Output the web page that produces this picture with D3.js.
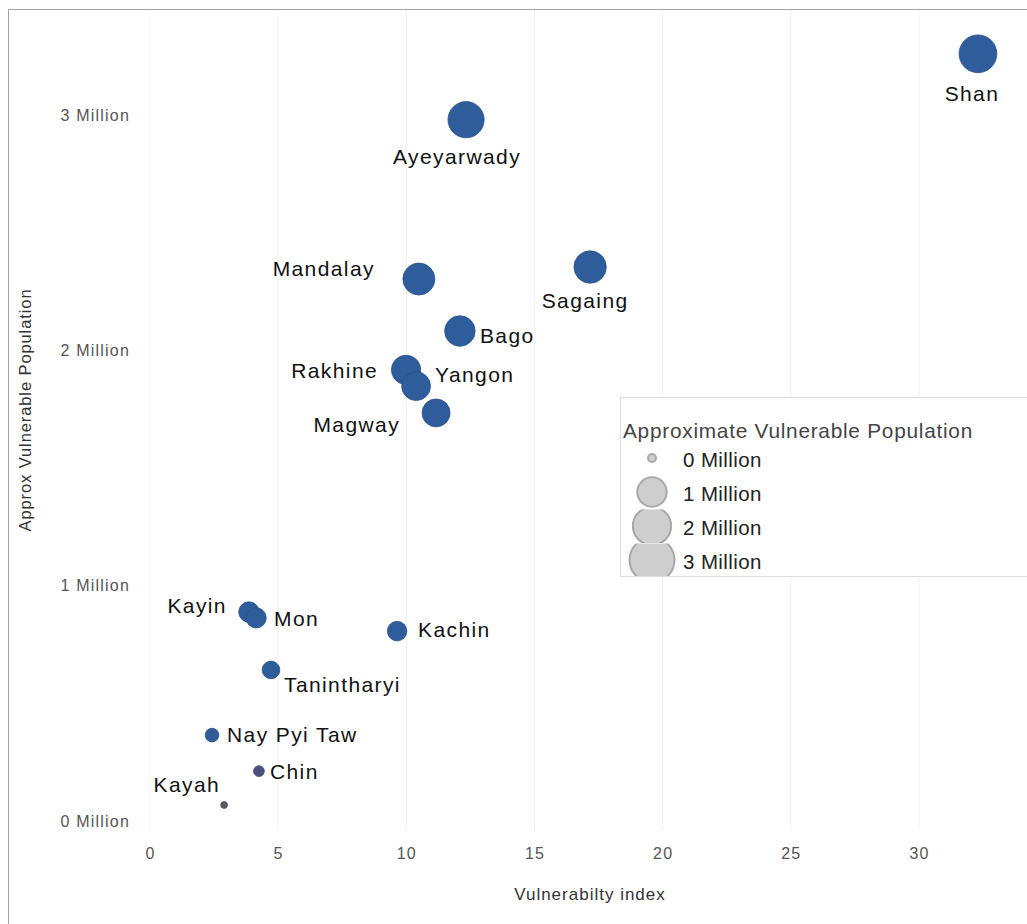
<!DOCTYPE html>
<html>
<head>
<meta charset="utf-8">
<script src="https://cdn.jsdelivr.net/npm/d3@7"></script>
<style>
  html, body { margin: 0; padding: 0; background: #fff; }
  svg { display: block; font-family: "Liberation Sans", Arial, sans-serif; }
</style>
</head>
<body>
<svg id="chart" width="1027" height="924"></svg>
<script>
// ---------------- data ----------------
const regions = ["Shan","Ayeyarwady","Sagaing","Mandalay","Bago","Rakhine","Yangon","Magway",
                 "Kayin","Mon","Kachin","Tanintharyi","Nay Pyi Taw","Chin","Kayah"];
const vulnerabilityIndex = [32.3, 12.33, 17.17, 10.49, 12.09, 9.99, 10.38, 11.16,
                            3.86, 4.14, 9.64, 4.72, 2.42, 4.25, 2.89];
const vulnerablePopulationM = [3.26, 2.98, 2.354, 2.303, 2.082, 1.917, 1.848, 1.734,
                               0.888, 0.863, 0.807, 0.642, 0.365, 0.212, 0.068];
const xTicks = [0, 5, 10, 15, 20, 25, 30];
const yTicks = [0, 1, 2, 3];
const legendValues = [0, 1, 2, 3];
const xTitle = "Vulnerabilty index";
const yTitle = "Approx Vulnerable Population";
const legendTitle = "Approximate Vulnerable Population";

// label placement (anchor, dx, dy) — layout only
const labelLayout = {
  "Shan": ["middle", -6, 47], "Ayeyarwady": ["middle", -9, 44], "Sagaing": ["middle", -5, 41],
  "Mandalay": ["end", -44, -3], "Bago": ["start", 20, 12], "Rakhine": ["end", -28, 8],
  "Yangon": ["start", 19, -4], "Magway": ["end", -36, 19], "Kayin": ["end", -22, 1],
  "Mon": ["start", 18, 8], "Kachin": ["start", 21, 6], "Tanintharyi": ["start", 13, 22],
  "Nay Pyi Taw": ["start", 15, 7], "Chin": ["start", 11, 8], "Kayah": ["end", -4, -13]
};

const data = regions.map((r, i) => ({ name: r, x: vulnerabilityIndex[i], y: vulnerablePopulationM[i] }));

// ---------------- scales ----------------
const svg = d3.select("#chart");
const x = d3.scaleLinear().domain([0, 30]).range([150, 919]);
const y = d3.scaleLinear().domain([0, 3]).range([821, 115]);
const r = d3.scaleSqrt().domain([0, 3.3]).range([0.8, 19]);
const rLegend = d3.scaleSqrt().domain([0, 3]).range([4, 22.5]);
const color = d3.scaleLinear().domain([0.07, 0.21, 0.37])
  .range(["#5b5b60", "#4b4f82", "#2f5c9b"]).clamp(true);

// border
svg.append("line").attr("x1", 8).attr("x2", 1027).attr("y1", 9.5).attr("y2", 9.5)
  .attr("stroke", "#a3a3a3").attr("stroke-width", 1);
svg.append("line").attr("x1", 8.5).attr("x2", 8.5).attr("y1", 9).attr("y2", 924)
  .attr("stroke", "#a3a3a3").attr("stroke-width", 1);

// faint gridlines
svg.append("g").selectAll("line").data(xTicks).join("line")
  .attr("x1", d => x(d)).attr("x2", d => x(d)).attr("y1", 10).attr("y2", 830)
  .attr("stroke", "#f1f1f1").attr("stroke-width", 1);

// axes
const xAxis = svg.append("g").attr("transform", "translate(0,848)")
  .call(d3.axisBottom(x).tickValues(xTicks).tickSize(0).tickPadding(0).tickFormat(d3.format("d")));
xAxis.select(".domain").remove();
xAxis.selectAll("text").attr("font-size", 16).attr("letter-spacing", "1.2px")
  .attr("fill", "#555").attr("font-family", "Liberation Sans, Arial, sans-serif");

const yAxis = svg.append("g").attr("transform", "translate(130,0)")
  .call(d3.axisLeft(y).tickValues(yTicks).tickSize(0).tickPadding(0).tickFormat(d => d + " Million"));
yAxis.select(".domain").remove();
yAxis.selectAll("text").attr("font-size", 16).attr("letter-spacing", "1.2px")
  .attr("fill", "#555").attr("font-family", "Liberation Sans, Arial, sans-serif");

// axis titles
svg.append("text").attr("x", 590).attr("y", 900).attr("text-anchor", "middle")
  .attr("font-size", 17).attr("letter-spacing", "1px").attr("fill", "#333").text(xTitle);
svg.append("text").attr("transform", "translate(31,410) rotate(-90)").attr("text-anchor", "middle")
  .attr("font-size", 16.5).attr("letter-spacing", "0.9px").attr("fill", "#333").text(yTitle);

// points
svg.append("g").selectAll("circle").data(data).join("circle")
  .attr("cx", d => x(d.x)).attr("cy", d => y(d.y)).attr("r", d => r(d.y))
  .attr("fill", d => color(d.y)).attr("stroke", d => d3.color(color(d.y)).darker(0.3))
  .attr("stroke-width", 0.8);

// labels
svg.append("g").selectAll("text").data(data).join("text")
  .attr("x", d => x(d.x) + labelLayout[d.name][1])
  .attr("y", d => y(d.y) + labelLayout[d.name][2])
  .attr("text-anchor", d => labelLayout[d.name][0])
  .attr("font-size", 21).attr("letter-spacing", "1.4px").attr("fill", "#111")
  .text(d => d.name);

// legend
const lg = svg.append("g");
lg.append("rect").attr("x", 620.5).attr("y", 397.5).attr("width", 420).attr("height", 179)
  .attr("fill", "#fff").attr("stroke", "#dcdcdc").attr("stroke-width", 1);
lg.append("text").attr("x", 623).attr("y", 438).attr("font-size", 20.8).attr("letter-spacing", "0.75px")
  .attr("fill", "#444").text(legendTitle);
const defs = svg.append("defs");
const rowY = v => 458 + v * 34;
legendValues.forEach((v, i) => {
  const top = rowY(v) - 16.5;
  const bottom = i === 3 ? 576 : rowY(v) + 17;
  defs.append("clipPath").attr("id", "lc" + i).append("rect")
    .attr("x", 620).attr("y", top).attr("width", 80).attr("height", bottom - top);
});
const rows = lg.selectAll("g.row").data(legendValues).join("g").attr("class", "row");
rows.append("circle").attr("cx", 652).attr("cy", d => rowY(d)).attr("r", d => rLegend(d))
  .attr("fill", "#cfcfcf").attr("stroke", "#a8a8a8").attr("stroke-width", 2)
  .attr("clip-path", (d, i) => "url(#lc" + i + ")");
rows.append("text").attr("x", 683).attr("y", d => rowY(d) + 9).attr("font-size", 20.5)
  .attr("letter-spacing", "0.4px").attr("fill", "#222").text(d => d + " Million");
</script>
</body>
</html>
